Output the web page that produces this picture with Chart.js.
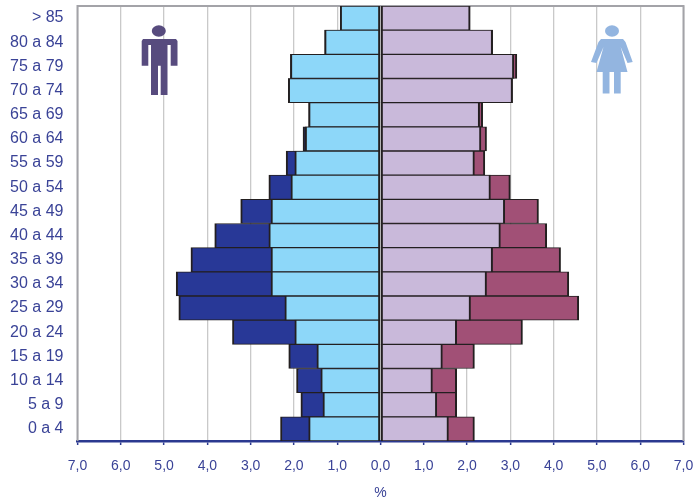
<!DOCTYPE html>
<html><head><meta charset="utf-8">
<script src="https://cdn.jsdelivr.net/npm/chart.js@4"></script>
<style>html,body{margin:0;padding:0;background:#fff}#w{width:694px;height:502px;position:relative}</style>
</head><body><div id="w"><canvas id="c" width="694" height="502"></canvas></div>
<script>
const categories = ['> 85','80 a 84','75 a 79','70 a 74','65 a 69','60 a 64','55 a 59','50 a 54','45 a 49','40 a 44','35 a 39','30 a 34','25 a 29','20 a 24','15 a 19','10 a 14','5 a 9','0 a 4'];
const maleInner = [-0.93,-1.29,-2.08,-2.13,-1.66,-1.74,-1.98,-2.07,-2.53,-2.58,-2.53,-2.53,-2.21,-1.98,-1.47,-1.38,-1.33,-1.66];
const maleOuter = [-0.93,-1.29,-2.08,-2.13,-1.66,-1.79,-2.18,-2.58,-3.23,-3.83,-4.38,-4.72,-4.66,-3.42,-2.12,-1.94,-1.84,-2.31];
const femaleInner = [2.07,2.59,3.08,3.05,2.29,2.32,2.17,2.54,2.87,2.77,2.59,2.45,2.08,1.76,1.43,1.20,1.30,1.57];
const femaleOuter = [2.07,2.59,3.15,3.05,2.36,2.45,2.41,3.00,3.65,3.84,4.16,4.35,4.58,3.28,2.17,1.76,1.76,2.17];
const INK = '#3a4397', EDGE = '#231f20', FRAME = '#a3a3a8', GRID = '#c9c9c9';
const FONT = '"Liberation Sans", Arial, sans-serif';
const edge = {left:2,right:2,top:1,bottom:1};
function ds(data, color, order){
  return {data, backgroundColor:color, borderColor:EDGE, borderWidth:edge, borderSkipped:false,
    grouped:false, order, barPercentage:1, categoryPercentage:1};
}
function poly(g, pts){
  g.beginPath(); pts.forEach((p,i)=> i ? g.lineTo(p[0],p[1]) : g.moveTo(p[0],p[1])); g.closePath(); g.fill();
}
const frame = {id:'frame', beforeDatasetsDraw(ch){
  const a = ch.chartArea, g = ch.ctx;
  g.save(); g.strokeStyle = FRAME; g.lineWidth = 2;
  g.beginPath(); g.moveTo(a.left,a.bottom); g.lineTo(a.left,a.top); g.lineTo(a.right,a.top); g.lineTo(a.right,a.bottom); g.stroke();
  g.restore();
}};
const figures = {id:'figures', afterDraw(ch){
  const g = ch.ctx; g.save();
  g.fillStyle = '#574b7e';
  g.beginPath(); g.ellipse(158.8,31,7,5.8,0,0,7); g.fill();
  poly(g,[[143,39],[176,39],[177.5,41],[177.5,65.7],[170.7,65.7],[170.7,45],[167.5,45],[167.5,95],[160.7,95],[160.7,65.7],[158,65.7],[158,95],[151,95],[151,45],[148.3,45],[148.3,65.7],[141.7,65.7],[141.7,41]]);
  g.fillStyle = '#93b5e0';
  g.beginPath(); g.ellipse(612,31,7,5.8,0,0,7); g.fill();
  poly(g,[[601,39],[623,39],[625.5,42],[632.7,62],[627.5,63],[620.7,47],[627.5,72],[620.7,72],[620.7,93.5],[614,93.5],[614,72],[609.5,72],[609.5,93.5],[602.7,93.5],[602.7,72],[596.5,72],[603.5,47],[596.5,63],[591,62],[598.5,42]]);
  g.restore();
}};
new Chart(document.getElementById('c'), {
  type:'bar',
  data:{labels:categories, datasets:[
    ds(maleInner,'#8dd7f9',1), ds(maleOuter,'#283897',2),
    ds(femaleInner,'#c9b9da',1), ds(femaleOuter,'#a15076',2)
  ]},
  plugins:[frame,figures],
  options:{
    indexAxis:'y', responsive:false, animation:false, devicePixelRatio:1,
    layout:{padding:{left:0,right:10.5,top:6,bottom:0}},
    plugins:{legend:{display:false},tooltip:{enabled:false},title:{display:false}},
    scales:{
      x:{min:-7,max:7,
        afterFit(s){s.height=61;s.paddingLeft=0;s.paddingRight=0;},
        grid:{color:GRID,lineWidth:1.3,tickColor:'#2b3990',tickLength:4,tickWidth:1.5},
        border:{color:'#2b3990',width:2.5},
        ticks:{stepSize:1,maxRotation:0,autoSkip:false,padding:13,color:INK,font:{family:FONT,size:14},
          callback:v=>Math.abs(v).toFixed(1).replace('.',',')},
        title:{display:true,text:'%',color:INK,font:{family:FONT,size:14},padding:{top:2,bottom:0}}
      },
      y:{
        afterFit(s){s.width=77.5;s.paddingTop=0;s.paddingBottom=0;},
        grid:{display:false,drawTicks:false},
        border:{display:false},
        ticks:{padding:14,color:INK,autoSkip:false,font:{family:FONT,size:16}}
      }
    }
  }
});
</script></body></html>
